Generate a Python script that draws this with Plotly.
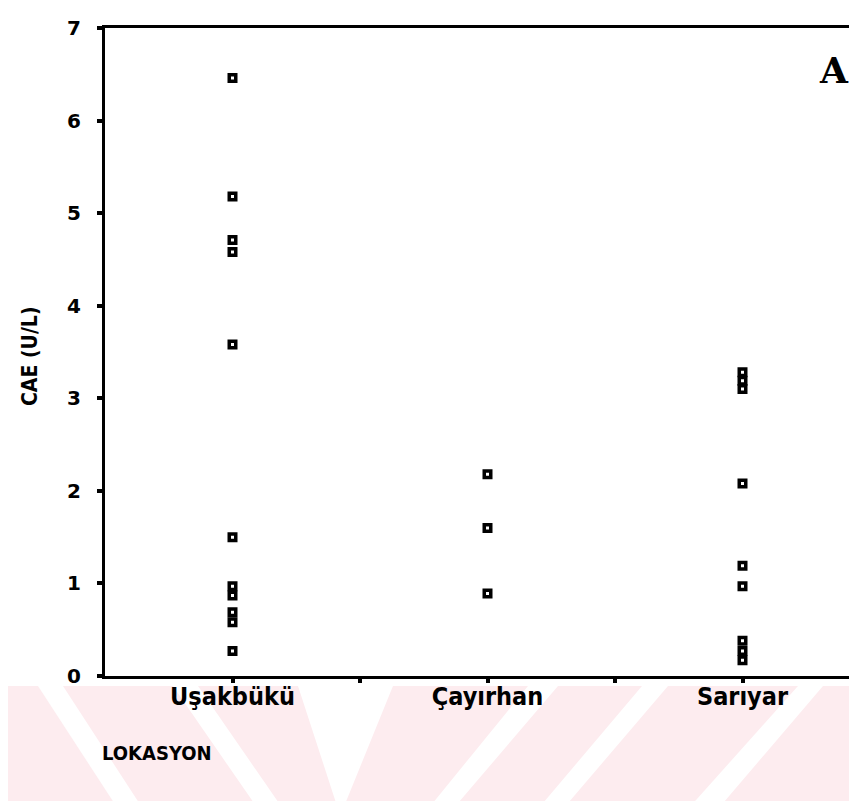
import plotly.graph_objects as go

categories = ["Uşakbükü", "Çayırhan", "Sarıyar"]
cat_pos = [1, 2, 3]
usakbuku = [6.46, 5.18, 4.71, 4.58, 3.58, 1.50, 0.97, 0.87, 0.69, 0.58, 0.27]
cayirhan = [2.18, 1.60, 0.89]
sariyar = [3.28, 3.19, 3.10, 2.08, 1.19, 0.97, 0.38, 0.27, 0.17]
y_ticks = [0, 1, 2, 3, 4, 5, 6, 7]
x_tickvals = [1, 1.5, 2, 2.5, 3]
x_ticktext = ["<b>Uşakbükü</b>", "", "<b>Çayırhan</b>", "", "<b>Sarıyar</b>"]

W, H = 857, 801
L, R, T, B = 97, 0, 20, 133
PW, PH = W - L - R, H - T - B

def px(x):
    return (x - L) / PW

def py(y):
    return (H - B - y) / PH

fig = go.Figure()
series = [usakbuku, cayirhan, sariyar]
for pos, vals in zip(cat_pos, series):
    fig.add_trace(go.Scatter(
        x=[pos] * len(vals), y=vals, mode="markers",
        marker=dict(symbol="square-open", size=6.5, color="black",
                    line=dict(color="black", width=3.5)),
        showlegend=False, hoverinfo="y"))

# faint pink watermark
pink = "#fdecef"
top, bot = 678, 801
polys = [
    [(0, top), (30, top), (110, bot), (0, bot)],
    [(55, top), (165, top), (250, bot), (135, bot)],
    [(190, top), (290, top), (330, bot), (275, bot)],
    [(385, top), (520, top), (420, bot), (335, bot)],
    [(550, top), (634, top), (530, bot), (445, bot)],
    [(660, top), (790, top), (680, bot), (555, bot)],
    [(815, top), (857, top), (857, bot), (710, bot)],
]
shapes = []
for poly in polys:
    path = "M " + " L ".join(f"{px(a):.5f},{py(b):.5f}" for a, b in poly) + " Z"
    shapes.append(dict(type="path", path=path, xref="paper", yref="paper",
                       fillcolor=pink, line=dict(width=0), layer="below"))

cond = "DejaVu Sans Condensed, Liberation Sans Narrow, DejaVu Sans, sans-serif"
annotations = [
    dict(text="<b>CAE (U/L)</b>", x=px(22), y=py(348), xref="paper", yref="paper",
         xanchor="center", yanchor="middle",
         textangle=-90, showarrow=False, font=dict(family=cond, size=21, color="black")),
    dict(text="<b>LOKASYON</b>", x=px(92), y=py(745), xref="paper", yref="paper",
         xanchor="left", yanchor="middle", showarrow=False,
         font=dict(family=cond, size=20, color="black")),
    dict(text="<b>A</b>", x=px(826), y=py(62), xref="paper", yref="paper",
         xanchor="center", yanchor="middle", showarrow=False,
         font=dict(family="DejaVu Serif, Liberation Serif, serif", size=36, color="black")),
]

fig.update_layout(
    width=W, height=H, margin=dict(l=L, r=R, t=T, b=B, pad=0),
    paper_bgcolor="white", plot_bgcolor="rgba(0,0,0,0)",
    shapes=shapes, annotations=annotations,
    xaxis=dict(range=[0.5, 0.5 + PW / 255.0], tickvals=x_tickvals, ticktext=x_ticktext,
               showline=True, linecolor="black", linewidth=3, mirror=True,
               ticks="outside", ticklen=4, tickwidth=4, tickcolor="black",
               showgrid=False, zeroline=False, ticklabelstandoff=-8,
               tickfont=dict(family=cond, size=25, color="black")),
    yaxis=dict(range=[0, 7], tickvals=y_ticks, ticktext=[f"<b>{v}</b>" for v in y_ticks],
               showline=True, linecolor="black", linewidth=3,
               ticks="outside", ticklen=5, tickwidth=4, tickcolor="black",
               showgrid=False, zeroline=False, ticklabelstandoff=12,
               tickfont=dict(family="DejaVu Sans, sans-serif", size=20, color="black")),
)

fig.write_html("out.html")
